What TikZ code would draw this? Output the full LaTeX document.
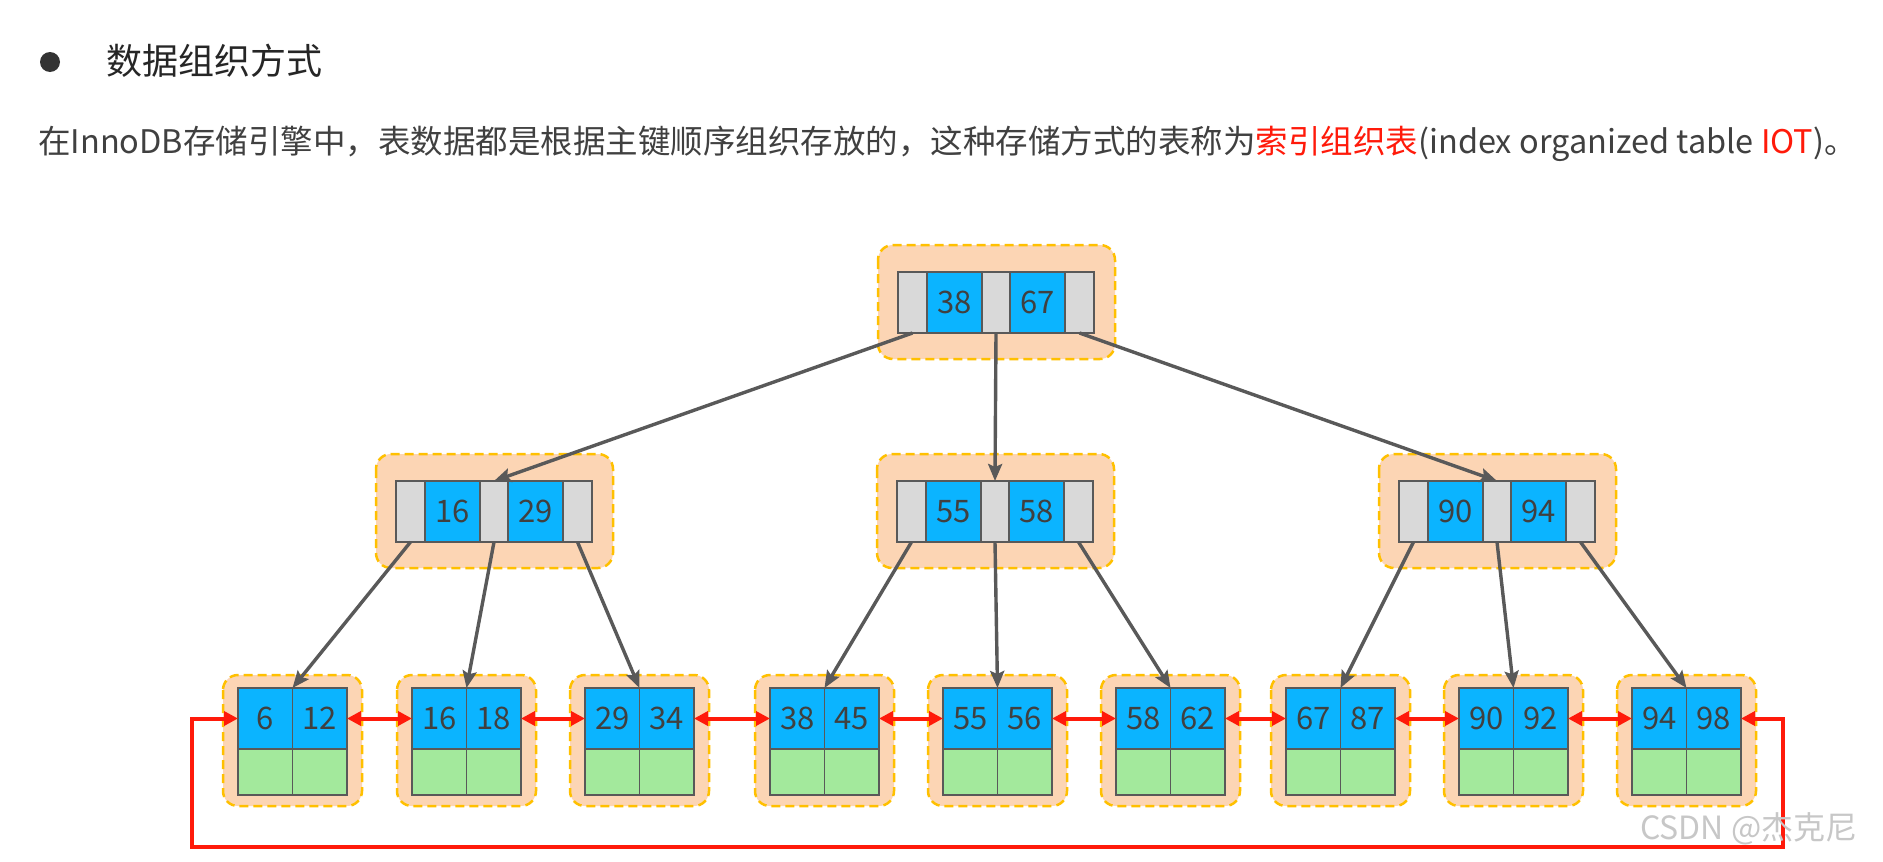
\documentclass[tikz,border=0pt]{standalone}
\usepackage{fontspec}
\setmainfont{Noto Sans CJK SC}
\usetikzlibrary{arrows.meta,calc}
\definecolor{cellblue}{HTML}{0BB4FF}
\definecolor{cellgray}{HTML}{D9D9D9}
\definecolor{cellgreen}{HTML}{A3E99C}
\definecolor{boxfill}{HTML}{FCD5B4}
\definecolor{boxline}{HTML}{FFC000}
\definecolor{edgegray}{HTML}{595959}
\definecolor{txtgray}{HTML}{404040}
\definecolor{linkred}{HTML}{FF1A0A}
\tikzset{
  cell/.style={draw=edgegray, line width=1.3pt, inner sep=0pt, outer sep=0pt, anchor=north west,
    minimum height=61pt, text=txtgray, font=\fontsize{31}{31}\selectfont},
  graycell/.style={cell, fill=cellgray, minimum width=#1},
  bluecell/.style={cell, fill=cellblue, minimum width=#1},
  greencell/.style={cell, fill=cellgreen, minimum width=54.5pt, minimum height=46pt},
  container/.style={fill=boxfill, draw=boxline, line width=2.5pt, dash pattern=on 9pt off 5pt, rounded corners=15pt},
  treeedge/.style={draw=edgegray, line width=3.4pt, -{Stealth[length=17pt,width=14pt,inset=3pt]}},
  leafedge/.style={draw=linkred, line width=4pt, {Triangle[length=14pt,width=14pt]}-{Triangle[length=14pt,width=14pt]}},
  plaintext/.style={anchor=west, inner sep=0pt},
}
\newcommand{\innerblock}[5]{%
  \draw[container] (#2-20,#3-27) rectangle (#2+217,#3+87);
  \node[graycell=29pt] (#1-g1) at (#2,#3) {};
  \node[bluecell=55pt] (#1-b1) at (#2+29,#3) {#4};
  \node[graycell=28pt] (#1-g2) at (#2+84,#3) {};
  \node[bluecell=55pt] (#1-b2) at (#2+112,#3) {#5};
  \node[graycell=29pt] (#1-g3) at (#2+167,#3) {};
}
\newcommand{\leafblock}[4]{%
  \draw[container] (#2-15,675) rectangle (#2+124,806);
  \node[bluecell=54.5pt] (#1-a) at (#2,688) {#3};
  \node[bluecell=54.5pt] (#1-b) at (#2+54.5,688) {#4};
  \node[greencell] (#1-c) at (#2,749) {};
  \node[greencell] (#1-d) at (#2+54.5,749) {};
}
\begin{document}
\begin{tikzpicture}[x=1pt,y=-1pt]
\fill[white] (0,0) rectangle (1883,862);
\useasboundingbox (0,0) rectangle (1883,862);

% header texts
\fill[black!80] (50,62) circle[radius=10pt];
\node[plaintext, font=\fontsize{36}{36}\selectfont, text=black!85] (title) at (106,61) {数据组织方式};
\node[plaintext, font=\fontsize{32.5}{32.5}\selectfont, text=txtgray] (para) at (38,144)
  {在InnoDB存储引擎中，表数据都是根据主键顺序组织存放的，这种存储方式的表称为{\color{linkred}索引组织表}(index organized table {\color{linkred}IOT})。};

% tree nodes
\innerblock{r}{898}{272}{38}{67}
\innerblock{ml}{396}{481}{16}{29}
\innerblock{mc}{897}{481}{55}{58}
\innerblock{mr}{1399}{481}{90}{94}

\leafblock{l1}{238}{6}{12}
\leafblock{l2}{412}{16}{18}
\leafblock{l3}{585}{29}{34}
\leafblock{l4}{770}{38}{45}
\leafblock{l5}{943}{55}{56}
\leafblock{l6}{1116}{58}{62}
\leafblock{l7}{1286}{67}{87}
\leafblock{l8}{1459}{90}{92}
\leafblock{l9}{1632}{94}{98}

% tree edges
\draw[treeedge] (r-g1.south) -- (ml-g2.north);
\draw[treeedge] (r-g2.south) -- (mc-g2.north);
\draw[treeedge] (r-g3.south) -- (mr-g2.north);
\draw[treeedge] (ml-g1.south) -- (l1-a.north east);
\draw[treeedge] (ml-g2.south) -- (l2-a.north east);
\draw[treeedge] (ml-g3.south) -- (l3-a.north east);
\draw[treeedge] (mc-g1.south) -- (l4-a.north east);
\draw[treeedge] (mc-g2.south) -- (l5-a.north east);
\draw[treeedge] (mc-g3.south) -- (l6-a.north east);
\draw[treeedge] (mr-g1.south) -- (l7-a.north east);
\draw[treeedge] (mr-g2.south) -- (l8-a.north east);
\draw[treeedge] (mr-g3.south) -- (l9-a.north east);

% leaf links
\draw[leafedge] (l1-b.east) -- (l2-a.west);
\draw[leafedge] (l2-b.east) -- (l3-a.west);
\draw[leafedge] (l3-b.east) -- (l4-a.west);
\draw[leafedge] (l4-b.east) -- (l5-a.west);
\draw[leafedge] (l5-b.east) -- (l6-a.west);
\draw[leafedge] (l6-b.east) -- (l7-a.west);
\draw[leafedge] (l7-b.east) -- (l8-a.west);
\draw[leafedge] (l8-b.east) -- (l9-a.west);
\coordinate (loopR) at (1783,847);
\coordinate (loopL) at (192,847);
\draw[leafedge] (l9-b.east) -| (loopR) -- (loopL) |- (l1-a.west);

% watermark
\node[plaintext, font=\fontsize{32}{32}\selectfont, text=black!22] (wm) at (1640,829) {CSDN @杰克尼};
\end{tikzpicture}
\end{document}
